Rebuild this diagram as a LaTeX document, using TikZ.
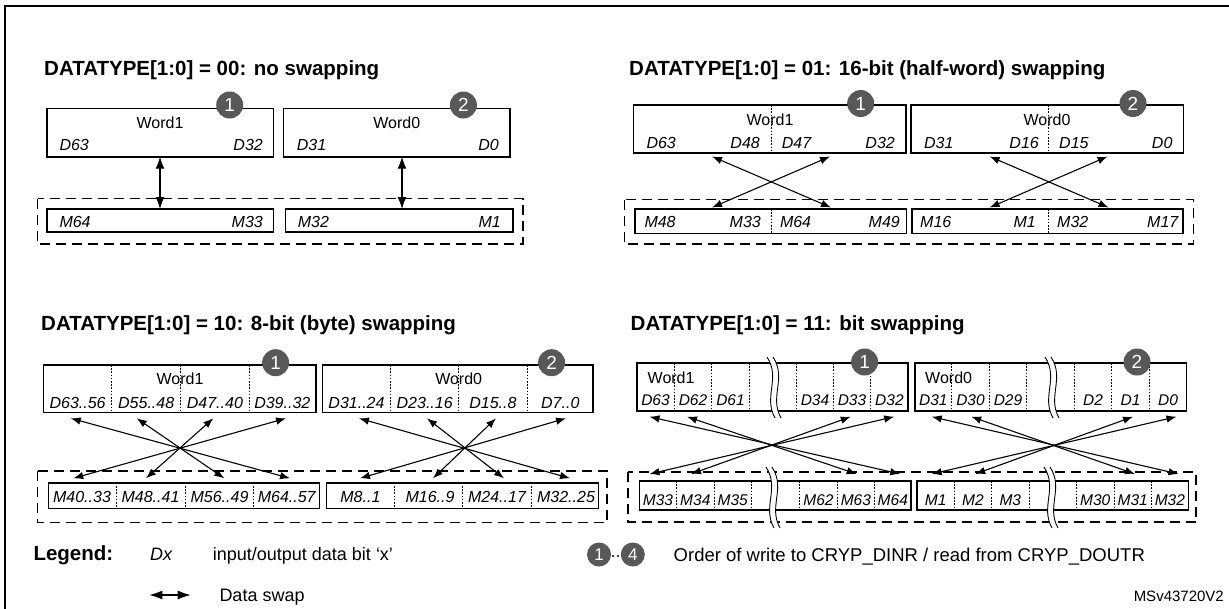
\documentclass[tikz,border=0pt]{standalone}
\usepackage{fontspec}
\setmainfont{Liberation Sans}
\usetikzlibrary{arrows.meta}
\definecolor{numgray}{RGB}{88,88,88}
\newcommand{\breakmark}[3]{%
  \fill[white] ({#1-6},#2) .. controls ({#1+8},{#2+0.35*(#3-#2)}) and ({#1-10},{#2+0.65*(#3-#2)}) .. ({#1+2},#3)
     -- ({#1+8},#3) .. controls ({#1-4},{#2+0.65*(#3-#2)}) and ({#1+14},{#2+0.35*(#3-#2)}) .. ({#1},#2) -- cycle;
  \draw[line width=0.9pt] ({#1-6},#2) .. controls ({#1+8},{#2+0.35*(#3-#2)}) and ({#1-10},{#2+0.65*(#3-#2)}) .. ({#1+2},#3);
  \draw[line width=0.9pt] ({#1},#2) .. controls ({#1+14},{#2+0.35*(#3-#2)}) and ({#1-4},{#2+0.65*(#3-#2)}) .. ({#1+8},#3);
}
\begin{document}
\begin{tikzpicture}[x=1pt,y=-1pt,
  box/.style={line width=1.6pt},
  dv/.style={line width=1pt,dash pattern=on 1.6pt off 1.6pt},
  dbox/.style={line width=1.8pt,dash pattern=on 10pt off 6pt},
  sw/.style={line width=1.1pt,{Latex[length=10pt,width=7.5pt]}-{Latex[length=10pt,width=7.5pt]}},
  swbig/.style={line width=1.2pt,{Latex[length=12pt,width=9pt]}-{Latex[length=12pt,width=9pt]}},
  ttl/.style={anchor=base west,inner sep=0,font=\fontsize{20.5}{24}\selectfont\bfseries},
  wd/.style={inner sep=0,font=\fontsize{16}{19}\selectfont},
  lb/.style={inner sep=0,font=\fontsize{16}{19}\selectfont\itshape},
  lbs/.style={inner sep=0,font=\fontsize{15.5}{19}\selectfont\itshape},
  num/.style={circle,fill=numgray,inner sep=0,minimum size=27pt,text=white,font=\fontsize{19}{20}\selectfont},
  nums/.style={circle,fill=numgray,inner sep=0,minimum size=24pt,text=white,font=\fontsize{17}{20}\selectfont},
  leg/.style={anchor=base west,inner sep=0,font=\fontsize{18}{21}\selectfont},
]
\useasboundingbox (0,0) rectangle (1229,608);
\fill[white] (0,0) rectangle (1229,608);
% frame
\draw[line width=2pt] (5,612) -- (5,6) -- (1232,6);

% ================= Panel 1 =================
\node[ttl] (t1) at (44,75.7) {DATATYPE[1:0] = 00: no swapping};
\draw[box] (46.7,108.5) rectangle (273.6,156.7);
\draw[box] (283.5,108.5) rectangle (510,156.7);
\draw[box] (46.7,209) rectangle (273.6,231.7);
\draw[box] (285.5,209) rectangle (512.8,231.7);
\draw[dbox] (37.5,198.5) rectangle (522.7,244.3);
\node[wd,anchor=base] (p1w1) at (160,128.7) {Word1};
\node[wd,anchor=base] (p1w0) at (396.8,128.7) {Word0};
\node[lb,anchor=base west] (p1d63) at (59.3,150) {D63};
\node[lb,anchor=base east] (p1d32) at (263,150) {D32};
\node[lb,anchor=base west] (p1d31) at (296.6,150) {D31};
\node[lb,anchor=base east] (p1d0) at (499,150) {D0};
\node[lb,anchor=base west] (p1m64) at (59.3,227.2) {M64};
\node[lb,anchor=base east] (p1m33) at (263,227.2) {M33};
\node[lb,anchor=base west] (p1m32) at (297.7,227.2) {M32};
\node[lb,anchor=base east] (p1m1) at (501,227.2) {M1};
\node[num] (p1c1) at (229.7,105) {1};
\node[num] (p1c2) at (463.4,105) {2};
\coordinate (p1a1) at (160,156.7);
\coordinate (p1b1) at (160,209);
\coordinate (p1a2) at (402,156.7);
\coordinate (p1b2) at (402,209);
\draw[swbig] (p1a1) -- (p1b1);
\draw[swbig] (p1a2) -- (p1b2);

% ================= Panel 2 =================
\node[ttl] (t2) at (629,75.7) {DATATYPE[1:0] = 01: 16-bit (half-word) swapping};
\draw[box] (633.5,105) rectangle (906,152.7);
\draw[box] (911.2,105) rectangle (1183.6,152.7);
\draw[box] (635,209) rectangle (906.5,233.3);
\draw[box] (912,209) rectangle (1183.2,233.3);
\draw[dv] (771,105) -- (771,152.7);
\draw[dv] (1048.6,105) -- (1048.6,152.7);
\draw[dv] (771,209) -- (771,233.3);
\draw[dv] (1048.6,209) -- (1048.6,233.3);
\draw[dbox] (624.5,199.5) rectangle (1193.5,244.3);
\node[wd,anchor=base] (p2w1) at (770,125.7) {Word1};
\node[wd,anchor=base] (p2w0) at (1047,125.7) {Word0};
\node[lb,anchor=base west] (p2d63) at (646.3,148.4) {D63};
\node[lb,anchor=base east] (p2d48) at (760,148.4) {D48};
\node[lb,anchor=base west] (p2d47) at (781.7,148.4) {D47};
\node[lb,anchor=base east] (p2d32) at (895,148.4) {D32};
\node[lb,anchor=base west] (p2d31) at (923.9,148.4) {D31};
\node[lb,anchor=base east] (p2d16) at (1039,148.4) {D16};
\node[lb,anchor=base west] (p2d15) at (1059,148.4) {D15};
\node[lb,anchor=base east] (p2d0) at (1172.6,148.4) {D0};
\node[lb,anchor=base west] (p2m48) at (644.3,227.4) {M48};
\node[lb,anchor=base east] (p2m33) at (761,227.4) {M33};
\node[lb,anchor=base west] (p2m64) at (779.8,227.4) {M64};
\node[lb,anchor=base east] (p2m49) at (900,227.4) {M49};
\node[lb,anchor=base west] (p2m16) at (920,227.4) {M16};
\node[lb,anchor=base east] (p2m1) at (1036,227.4) {M1};
\node[lb,anchor=base west] (p2m32) at (1057,227.4) {M32};
\node[lb,anchor=base east] (p2m17) at (1178.5,227.4) {M17};
\node[num] (p2c1) at (860.7,103.5) {1};
\node[num] (p2c2) at (1133,103.5) {2};
\coordinate (p2a1) at (712,156.5);   \coordinate (p2b1) at (831,207.5);
\coordinate (p2a2) at (830,156.5);   \coordinate (p2b2) at (712,207.5);
\coordinate (p2a3) at (989.6,156.5); \coordinate (p2b3) at (1108.6,207.5);
\coordinate (p2a4) at (1107.6,156.5);\coordinate (p2b4) at (989.6,207.5);
\draw[sw] (p2a1) -- (p2b1);
\draw[sw] (p2a2) -- (p2b2);
\draw[sw] (p2a3) -- (p2b3);
\draw[sw] (p2a4) -- (p2b4);

% ================= Panel 3 =================
\node[ttl] (t3) at (41,330) {DATATYPE[1:0] = 10: 8-bit (byte) swapping};
\draw[box] (43.5,365) rectangle (315.8,412.5);
\draw[box] (322.3,365) rectangle (593.1,412.5);
\draw[box] (48.3,482.7) rectangle (319.4,508.3);
\draw[box] (326.6,482.7) rectangle (598.3,508.3);
\foreach \xx in {111.7,180.5,249,390.5,458.7,527} \draw[dv] (\xx,365) -- (\xx,412.5);
\foreach \xx in {116,185,253.5,394.2,462.6,531.5} \draw[dv] (\xx,482.7) -- (\xx,508.3);
\draw[dbox] (37.5,471) rectangle (607,522.5);
\node[wd,anchor=base] (p3w1) at (180,384.7) {Word1};
\node[wd,anchor=base] (p3w0) at (458.7,384.7) {Word0};
\node[lb,anchor=base] (p3d1) at (77.6,408.7) {D63..56};
\node[lb,anchor=base] (p3d2) at (146.2,408.7) {D55..48};
\node[lb,anchor=base] (p3d3) at (214.9,408.7) {D47..40};
\node[lb,anchor=base] (p3d4) at (282.3,408.7) {D39..32};
\node[lb,anchor=base] (p3d5) at (356.5,408.7) {D31..24};
\node[lb,anchor=base] (p3d6) at (424.7,408.7) {D23..16};
\node[lb,anchor=base] (p3d7) at (492.9,408.7) {D15..8};
\node[lb,anchor=base] (p3d8) at (560.3,408.7) {D7..0};
\node[lb,anchor=base] (p3m1) at (82,502.7) {M40..33};
\node[lb,anchor=base] (p3m2) at (150.5,502.7) {M48..41};
\node[lb,anchor=base] (p3m3) at (219.5,502.7) {M56..49};
\node[lb,anchor=base] (p3m4) at (286.7,502.7) {M64..57};
\node[lb,anchor=base] (p3m5) at (360.4,502.7) {M8..1};
\node[lb,anchor=base] (p3m6) at (430,502.7) {M16..9};
\node[lb,anchor=base] (p3m7) at (497,502.7) {M24..17};
\node[lb,anchor=base] (p3m8) at (566,502.7) {M32..25};
\node[num] (p3c1) at (275.6,362.7) {1};
\node[num] (p3c2) at (551.6,362.7) {2};
\coordinate (p3a1) at (70.7,418.3);  \coordinate (p3b1) at (290,478.3);
\coordinate (p3a2) at (136.7,418.3); \coordinate (p3b2) at (224.3,478.3);
\coordinate (p3a3) at (213.3,418.3); \coordinate (p3b3) at (146,478.3);
\coordinate (p3a4) at (286,418.3);   \coordinate (p3b4) at (73.3,478.3);
\coordinate (p3a5) at (359,418.3);   \coordinate (p3b5) at (570,478.3);
\coordinate (p3a6) at (427,418.3);   \coordinate (p3b6) at (504,478.3);
\coordinate (p3a7) at (496,418.3);   \coordinate (p3b7) at (433,478.3);
\coordinate (p3a8) at (566,418.3);   \coordinate (p3b8) at (360,478.3);
\foreach \i in {1,...,8} \draw[sw] (p3a\i) -- (p3b\i);

% ================= Panel 4 =================
\node[ttl] (t4) at (630.5,330) {DATATYPE[1:0] = 11: bit swapping};
\draw[box] (636.8,363) rectangle (908,411);
\draw[box] (914.8,363) rectangle (1186.4,411);
\draw[box] (639.6,481) rectangle (911.2,510);
\draw[box] (917.1,481) rectangle (1188.4,510);
\foreach \xx in {674.3,711.8,749.3,796.3,833.8,870.8,951.8,989.3,1026.8,1074.4,1111.9,1149.4} \draw[dv] (\xx,363) -- (\xx,411);
\foreach \xx in {676.6,714,751.4,799.8,837.3,874.5,954.2,991.6,1029,1076.5,1114,1151.4} \draw[dv] (\xx,481) -- (\xx,510);
\draw[dbox] (627.8,472) rectangle (1196.3,522);
\node[wd,anchor=base west] (p4w1) at (647.5,383) {Word1};
\node[wd,anchor=base west] (p4w0) at (925,383) {Word0};
\node[lbs,anchor=base] (p4d1) at (655.5,405.7) {D63};
\node[lbs,anchor=base] (p4d2) at (693,405.7) {D62};
\node[lbs,anchor=base] (p4d3) at (730.5,405.7) {D61};
\node[lbs,anchor=base] (p4d4) at (815,405.7) {D34};
\node[lbs,anchor=base] (p4d5) at (852,405.7) {D33};
\node[lbs,anchor=base] (p4d6) at (889.4,405.7) {D32};
\node[lbs,anchor=base] (p4d7) at (933.3,405.7) {D31};
\node[lbs,anchor=base] (p4d8) at (970.5,405.7) {D30};
\node[lbs,anchor=base] (p4d9) at (1008,405.7) {D29};
\node[lbs,anchor=base] (p4d10) at (1093,405.7) {D2};
\node[lbs,anchor=base] (p4d11) at (1130.6,405.7) {D1};
\node[lbs,anchor=base] (p4d12) at (1168,405.7) {D0};
\node[lbs,anchor=base] (p4m1) at (658,505) {M33};
\node[lbs,anchor=base] (p4m2) at (695.3,505) {M34};
\node[lbs,anchor=base] (p4m3) at (732.7,505) {M35};
\node[lbs,anchor=base] (p4m4) at (818.5,505) {M62};
\node[lbs,anchor=base] (p4m5) at (855.9,505) {M63};
\node[lbs,anchor=base] (p4m6) at (892.8,505) {M64};
\node[lbs,anchor=base] (p4m7) at (935.6,505) {M1};
\node[lbs,anchor=base] (p4m8) at (972.9,505) {M2};
\node[lbs,anchor=base] (p4m9) at (1010.3,505) {M3};
\node[lbs,anchor=base] (p4m10) at (1095.2,505) {M30};
\node[lbs,anchor=base] (p4m11) at (1132.7,505) {M31};
\node[lbs,anchor=base] (p4m12) at (1169.9,505) {M32};
\breakmark{773}{357}{418}
\breakmark{1051}{357}{418}
\breakmark{772}{467}{528}
\breakmark{1050}{467}{528}
\node[num] (p4c1) at (864.6,362) {1};
\node[num] (p4c2) at (1137,362) {2};
\coordinate (p4a1) at (649.5,416.7);  \coordinate (p4b1) at (900.2,474);
\coordinate (p4a2) at (687,416.7);    \coordinate (p4b2) at (856.7,474);
\coordinate (p4a3) at (850.8,416.7);  \coordinate (p4b3) at (691,474);
\coordinate (p4a4) at (894.2,416.7);  \coordinate (p4b4) at (649.5,474);
\coordinate (p4a5) at (931.7,416.7);  \coordinate (p4b5) at (1178.5,474);
\coordinate (p4a6) at (971.2,416.7);  \coordinate (p4b6) at (1135,474);
\coordinate (p4a7) at (1133,416.7);   \coordinate (p4b7) at (975.2,474);
\coordinate (p4a8) at (1176.5,416.7); \coordinate (p4b8) at (931.7,474);
\foreach \i in {1,...,8} \draw[sw] (p4a\i) -- (p4b\i);

% ================= Legend =================
\node[anchor=base west,inner sep=0,font=\fontsize{20.5}{24}\selectfont\bfseries] (lgd) at (33.3,560.5) {Legend:};
\node[leg,font=\fontsize{18}{21}\selectfont\itshape] (ldx) at (150,560) {Dx};
\node[leg] (ldxt) at (212.7,560) {input/output data bit ‘x’};
\coordinate (lsa) at (149.3,595);
\coordinate (lsb) at (190.7,595);
\draw[line width=1.2pt,{Latex[length=13pt,width=9pt]}-{Latex[length=13pt,width=9pt]}] (lsa) -- (lsb);
\node[leg] (lds) at (219.3,601) {Data swap};
\node[nums] (lc1) at (599,554.5) {1};
\node[nums] (lc4) at (632.8,554.5) {4};
\fill (613,556) circle (1.1pt) (618,556) circle (1.1pt);
\node[leg,font=\fontsize{18.5}{21}\selectfont] (lord) at (673.5,561) {Order of write to CRYP\_DINR / read from CRYP\_DOUTR};
\node[anchor=base east,inner sep=0,font=\fontsize{15}{18}\selectfont] (msv) at (1224,601) {MSv43720V2};
\end{tikzpicture}
\end{document}
